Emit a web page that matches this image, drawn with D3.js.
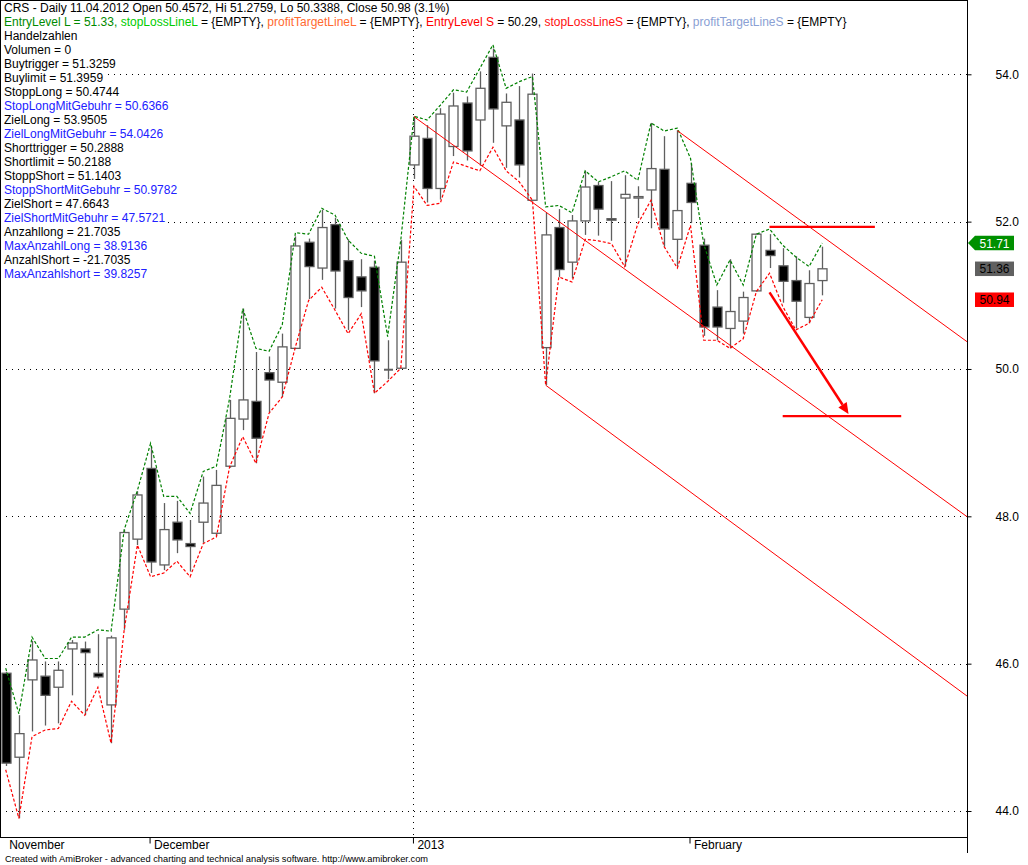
<!DOCTYPE html>
<html><head><meta charset="utf-8">
<script src="https://cdn.jsdelivr.net/npm/d3@7/dist/d3.min.js"></script>
<style>
body{margin:0;background:#fff;}
svg{display:block;font-family:"Liberation Sans",Arial,sans-serif;}
</style>
</head><body>
<svg id="chart" width="1028" height="865"></svg>
<script>
// ---------------- data ----------------
const openP  = [45.87,44.73,45.78,45.83,45.68,46.20,46.20,45.87,45.44,46.74,47.69,48.65,47.34,47.92,47.63,47.92,47.77,48.68,49.32,49.56,49.95,49.82,50.28,51.72,51.37,51.96,51.47,51.25,51.38,50.00,50.01,52.77,53.13,52.45,53.02,53.61,53.38,54.23,53.30,53.38,52.29,50.29,51.92,51.45,52.01,52.49,52.04,52.32,52.32,52.43,52.71,51.76,52.52,51.68,50.84,50.55,50.65,51.06,51.61,51.40,51.20,50.70,51.20];
const highP  = [45.89,45.30,46.31,46.03,46.03,46.32,46.30,46.40,46.38,47.82,48.34,48.95,48.18,48.21,47.95,48.54,48.63,49.58,50.82,50.23,50.17,50.48,51.80,51.77,52.16,52.05,51.76,51.49,51.47,50.39,51.75,53.43,53.31,53.54,53.75,53.70,54.04,54.35,53.74,53.84,54.01,52.12,52.17,52.09,52.69,52.54,52.55,52.63,52.48,53.34,53.16,53.24,52.79,51.77,51.07,51.49,51.05,51.84,51.83,51.64,51.53,51.34,51.66];
const lowP   = [44.61,43.90,45.08,45.16,45.19,45.57,45.30,45.80,44.92,46.46,47.61,47.23,47.27,47.50,47.25,47.64,47.73,48.66,49.17,48.72,49.41,49.62,50.28,50.95,51.21,50.82,50.53,50.84,49.67,49.86,50.01,52.58,52.26,52.30,52.89,52.83,52.76,53.07,52.73,52.60,52.29,49.78,51.25,51.23,51.82,51.81,51.74,51.39,52.05,51.91,51.66,51.39,51.98,50.45,50.39,50.28,50.48,51.05,51.37,50.90,50.55,50.62,51.00];
const closeP = [44.65,45.05,46.05,45.57,45.91,46.28,46.15,45.82,46.35,47.78,48.29,47.38,47.82,47.68,47.59,48.18,48.42,49.33,49.58,49.06,49.85,50.30,51.67,51.39,51.92,51.33,50.97,51.06,50.11,49.99,51.45,53.16,52.45,53.46,53.57,52.96,53.81,53.53,53.62,52.77,53.73,51.82,51.35,52.01,52.47,52.17,52.02,52.37,52.34,52.72,51.90,52.15,52.26,50.57,50.57,50.78,50.97,51.83,51.54,51.19,50.92,51.16,51.36];
const upperBand = [45.94,45.32,46.36,46.07,46.07,46.36,46.36,46.46,46.44,47.82,48.35,48.99,48.27,48.27,48.04,48.61,48.68,49.60,50.82,50.28,50.24,50.60,51.85,51.83,52.18,52.09,51.75,51.57,51.53,50.44,51.75,53.43,53.38,53.58,53.79,53.76,54.08,54.40,53.81,53.90,53.97,52.20,52.22,52.12,52.69,52.54,52.61,52.69,52.56,53.34,53.23,53.27,52.86,51.70,51.14,51.48,51.14,51.83,51.90,51.68,51.52,51.39,51.71];
const lowerBand = [44.56,43.90,45.01,45.10,45.12,45.49,45.30,45.68,44.92,46.46,47.61,47.18,47.23,47.39,47.18,47.63,47.72,48.67,49.08,48.72,49.40,49.62,50.30,50.93,51.11,50.80,50.48,50.75,49.67,49.83,50.01,52.48,52.22,52.25,52.81,52.75,52.69,53.01,52.69,52.54,52.29,49.78,51.25,51.18,51.76,51.74,51.70,51.39,51.97,52.29,51.66,51.37,51.95,50.39,50.39,50.28,50.41,51.05,51.30,50.85,50.53,50.62,50.94];

const monthLabels    = ["November","December","2013","February"];
const monthStartBars = [0, 11, 31, 52];
const yearStartBars  = [31];
const yTicks = [44, 46, 48, 50, 52, 54];

// channel lines: [startBar, startPrice, endBar, endPrice]
const channelLines = [[51, 53.235, 73, 50.37], [31, 53.425, 73, 47.995], [41, 49.78, 73, 45.56]];
// horizontal target levels: [startBar, price, endBar]
const levelLines = [[58, 51.93, 66], [59, 49.36, 68]];
// arrow: [startBar, startPrice, endBar, endPrice]
const arrowLine = [58, 51.04, 64, 49.39];
const priceTags = [51.71, 51.36, 50.94];

const titleText = "CRS - Daily 11.04.2012 Open 50.4572, Hi 51.2759, Lo 50.3388, Close 50.98 (3.1%)";
const legendParts = [
  ["EntryLevel L = 51.33, ", "#008a00"],
  ["stopLossLineL", "#00cc00"], [" = {EMPTY}, ", "#000"],
  ["profitTargetLineL", "#ff6a30"], [" = {EMPTY}, ", "#000"],
  ["EntryLevel S", "#ff0000"], [" = 50.29, ", "#000"],
  ["stopLossLineS", "#ff1010"], [" = {EMPTY}, ", "#000"],
  ["profitTargetLineS", "#8a9fd4"], [" = {EMPTY}", "#000"]
];
const infoLines = [
  ["Handelzahlen", 0], ["Volumen = 0", 0], ["Buytrigger = 51.3259", 0], ["Buylimit = 51.3959", 0],
  ["StoppLong = 50.4744", 0], ["StopLongMitGebuhr = 50.6366", 1], ["ZielLong = 53.9505", 0],
  ["ZielLongMitGebuhr = 54.0426", 1], ["Shorttrigger = 50.2888", 0], ["Shortlimit = 50.2188", 0],
  ["StoppShort = 51.1403", 0], ["StoppShortMitGebuhr = 50.9782", 1], ["ZielShort = 47.6643", 0],
  ["ZielShortMitGebuhr = 47.5721", 1], ["Anzahllong = 21.7035", 0], ["MaxAnzahlLong = 38.9136", 1],
  ["AnzahlShort = -21.7035", 0], ["MaxAnzahlshort = 39.8257", 1]
];
const footerText = "Created with AmiBroker - advanced charting and technical analysis software. http://www.amibroker.com";

// ---------------- layout ----------------
const plotRight = 967, plotBottom = 837.5;
const x = d3.scaleLinear().domain([0, 62]).range([5.7, 822.2]);
const y = d3.scaleLinear().domain([44, 54]).range([811, 74.3]);
const bars = d3.range(openP.length);

const svg = d3.select("#chart");
svg.append("defs").append("clipPath").attr("id", "plotClip")
  .append("rect").attr("x", 0).attr("y", 0).attr("width", plotRight).attr("height", plotBottom);

// grid
const grid = svg.append("g").attr("shape-rendering", "crispEdges");
grid.selectAll("line.h").data(yTicks).join("line")
  .attr("x1", 0).attr("x2", plotRight)
  .attr("y1", d => Math.round(y(d)) + 0.5).attr("y2", d => Math.round(y(d)) + 0.5)
  .attr("stroke", "#000").attr("stroke-dasharray", "1,5");
grid.selectAll("line.v").data(yearStartBars).join("line")
  .attr("x1", d => Math.round(x(d) - 1) + 0.5).attr("x2", d => Math.round(x(d) - 1) + 0.5)
  .attr("y1", 0).attr("y2", plotBottom)
  .attr("stroke", "#000").attr("stroke-dasharray", "1,5");

const plot = svg.append("g").attr("clip-path", "url(#plotClip)");

// candles
const bw = 9;
const cg = plot.append("g");
cg.selectAll("line.wick").data(bars).join("line")
  .attr("x1", i => Math.round(x(i)) + 0.5).attr("x2", i => Math.round(x(i)) + 0.5)
  .attr("y1", i => y(highP[i])).attr("y2", i => y(lowP[i]))
  .attr("stroke", "#5f5f5f").attr("stroke-width", 1.3);
cg.selectAll("rect.body").data(bars.filter(i => Math.abs(openP[i] - closeP[i]) >= 0.015)).join("rect")
  .attr("x", i => Math.round(x(i)) + 0.5 - bw / 2)
  .attr("width", bw)
  .attr("y", i => y(Math.max(openP[i], closeP[i])))
  .attr("height", i => Math.abs(y(openP[i]) - y(closeP[i])))
  .attr("fill", i => closeP[i] < openP[i] ? "#000" : "#fff")
  .attr("stroke", "#5f5f5f").attr("stroke-width", 1.3);
cg.selectAll("line.doji").data(bars.filter(i => Math.abs(openP[i] - closeP[i]) < 0.015)).join("line")
  .attr("x1", i => Math.round(x(i)) + 0.5 - bw / 2).attr("x2", i => Math.round(x(i)) + 0.5 + bw / 2)
  .attr("y1", i => y(closeP[i])).attr("y2", i => y(closeP[i]))
  .attr("stroke", "#5f5f5f").attr("stroke-width", 2);

// dashed bands
const band = arr => d3.line().x(i => x(i)).y(i => y(arr[i]))(bars);
plot.append("path").attr("d", band(upperBand)).attr("fill", "none")
  .attr("stroke", "#008000").attr("stroke-width", 1.2).attr("stroke-dasharray", "3,2");
plot.append("path").attr("d", band(lowerBand)).attr("fill", "none")
  .attr("stroke", "#ff0000").attr("stroke-width", 1.2).attr("stroke-dasharray", "3,2");

// channel lines
plot.selectAll("line.ch").data(channelLines).join("line")
  .attr("x1", d => x(d[0])).attr("y1", d => y(d[1]))
  .attr("x2", d => x(d[2])).attr("y2", d => y(d[3]))
  .attr("stroke", "#ff0000").attr("stroke-width", 1);
plot.selectAll("line.lvl").data(levelLines).join("line")
  .attr("x1", d => x(d[0])).attr("y1", d => y(d[1]))
  .attr("x2", d => x(d[2])).attr("y2", d => y(d[1]))
  .attr("stroke", "#ff0000").attr("stroke-width", 2.2);

// arrow
{
  const x1 = x(arrowLine[0]), y1 = y(arrowLine[1]), x2 = x(arrowLine[2]), y2 = y(arrowLine[3]);
  const ang = Math.atan2(y2 - y1, x2 - x1);
  const L = 11, W = 5;
  const bx = x2 - L * Math.cos(ang), by = y2 - L * Math.sin(ang);
  plot.append("line").attr("x1", x1).attr("y1", y1).attr("x2", bx).attr("y2", by)
    .attr("stroke", "#ff0000").attr("stroke-width", 2.5);
  plot.append("path")
    .attr("d", `M${x2},${y2}L${bx - W * Math.sin(ang)},${by + W * Math.cos(ang)}L${bx + W * Math.sin(ang)},${by - W * Math.cos(ang)}Z`)
    .attr("fill", "#ff0000");
}

// frame
svg.append("g").attr("shape-rendering", "crispEdges").call(g => {
  g.append("line").attr("x1", 0.5).attr("x2", 0.5).attr("y1", 0).attr("y2", plotBottom).attr("stroke", "#000");
  g.append("line").attr("x1", 0).attr("x2", plotRight).attr("y1", 0.5).attr("y2", 0.5).attr("stroke", "#000");
  g.append("line").attr("x1", 0).attr("x2", plotRight).attr("y1", plotBottom).attr("y2", plotBottom).attr("stroke", "#000").attr("stroke-width", 1.3);
  g.append("line").attr("x1", plotRight + 0.5).attr("x2", plotRight + 0.5).attr("y1", 0).attr("y2", 853).attr("stroke", "#000").attr("stroke-width", 1.3);
});

// y axis
const yAxis = svg.append("g").attr("transform", `translate(${plotRight + 0.5},0)`)
  .call(d3.axisRight(y).tickValues(yTicks).tickFormat(d3.format(".1f")).tickSize(4).tickPadding(24));
yAxis.select(".domain").remove();
yAxis.selectAll("line").attr("stroke", "#000");
yAxis.selectAll("text").attr("font-size", 12).attr("fill", "#000")
  .attr("font-family", "'Liberation Sans',Arial,sans-serif");

// x axis
const xAxis = svg.append("g").attr("transform", `translate(-1,${plotBottom})`)
  .call(d3.axisBottom(x).tickValues(monthStartBars).tickFormat((d, i) => monthLabels[i]).tickSize(6));
xAxis.select(".domain").remove();
xAxis.selectAll(".tick line").attr("stroke", "#000").attr("opacity", (d, i) => i === 0 ? 0 : 1);
xAxis.selectAll(".tick text").attr("text-anchor", "start").attr("x", 4).attr("y", 11).attr("dy", null)
  .attr("font-size", 12).attr("fill", "#000").attr("font-family", "'Liberation Sans',Arial,sans-serif");

// price tags
const tagColors = ["#009000", "#606060", "#ff0000"];
const tagText = ["#ffffff", "#000000", "#000000"];
const tags = svg.append("g");
priceTags.forEach((p, i) => {
  const cy = y(p);
  const h = 14.5, x0 = 975, x1 = 1014;
  if (i === 0) {
    tags.append("path").attr("d", `M${x0 - 7},${cy}L${x0},${cy - h / 2}L${x1},${cy - h / 2}L${x1},${cy + h / 2}L${x0},${cy + h / 2}Z`)
      .attr("fill", tagColors[i]);
  } else {
    tags.append("rect").attr("x", x0).attr("y", cy - h / 2).attr("width", x1 - x0).attr("height", h).attr("fill", tagColors[i]);
  }
  tags.append("text").attr("x", (x0 + x1) / 2).attr("y", cy + 4.5).attr("text-anchor", "middle")
    .attr("font-size", 12).attr("fill", tagText[i]).text(d3.format(".2f")(p));
});

// header texts with white backgrounds
const header = svg.append("g").attr("font-size", 12);
function addBg(textSel) {
  const b = textSel.node().getBBox();
  header.insert("rect", () => textSel.node()).attr("x", b.x).attr("y", b.y).attr("width", b.width).attr("height", b.height).attr("fill", "#fff");
}
const t1 = header.append("text").attr("x", 4).attr("y", 12).attr("fill", "#000").text(titleText);
addBg(t1);
const t2 = header.append("text").attr("x", 4).attr("y", 26);
legendParts.forEach(p => t2.append("tspan").attr("fill", p[1]).text(p[0]));
addBg(t2);
infoLines.forEach((l, i) => {
  const t = header.append("text").attr("x", 4).attr("y", 40 + i * 14).attr("fill", l[1] ? "#2020ff" : "#000").text(l[0]);
  addBg(t);
});

// footer
svg.append("text").attr("x", 5).attr("y", 862).attr("font-size", 9.5)
  .attr("textLength", 423).attr("lengthAdjust", "spacingAndGlyphs")
  .attr("fill", "#000").text(footerText);
</script>
</body></html>
